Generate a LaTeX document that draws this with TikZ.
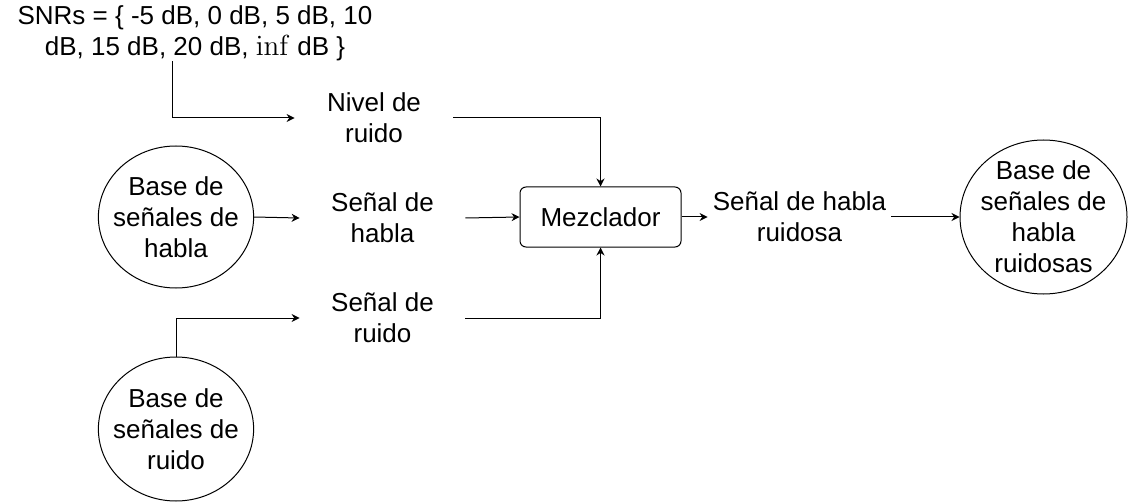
\RequirePackage{fix-cm}
\documentclass[tikz,border=0pt]{standalone}
\usepackage[no-math]{fontspec}
\setmainfont{Liberation Sans}
\usepackage{tikz}
\usetikzlibrary{arrows.meta, shapes.geometric, positioning}

\begin{document}
\begin{tikzpicture}[x=0.5pt, y=-0.5pt]
    % Setup the styles for the bases, the signals and the mixer
    \tikzset{base style/.style={ellipse, draw, line width=0.5pt,
                                inner sep=-4pt, align=center,
                                minimum width=76pt, minimum height=71pt},
             text style/.style={inner sep=0pt, align=center},
             box style/.style={rectangle, draw, rounded corners=3pt,
                               line width=0.5pt,
                               minimum width=80.5pt, minimum height=30pt},
             every node/.style={font=\fontsize{13}{15.5}\selectfont},
             link/.style={line width=0.5pt,
                          -{Stealth[length=4pt, width=4pt]}}}

    \useasboundingbox (0, 0) rectangle (1128, 502);

    % Draw the nodes
    \node[text style] at (195, 33) (snr)
        {SNRs = \{ -5 dB, 0 dB, 5 dB, 10\\dB, 15 dB, 20 dB, {\fontsize{14.5}{15.5}\selectfont$\inf$} dB \}};
    \node[text style, minimum width=79pt]   at (374, 118)   (nivel)    {Nivel de\\ruido};
    \node[base style]                       at (176, 217)   (habla)    {Base de\\señales de\\habla};
    \node[text style, minimum width=82.5pt] at (382.5, 218) (shabla)   {Señal de\\habla};
    \node[base style, minimum height=72pt]  at (176, 429)   (ruido)    {Base de\\señales de\\ruido};
    \node[text style, minimum width=82.5pt] at (382.5, 318) (sruido)   {Señal de\\ruido};
    \node[box style]                        at (600.5, 217) (mix)      {Mezclador};
    \node[text style, minimum width=91.5pt] at (799.5, 217) (sruidosa) {Señal de habla\\ruidosa};
    \node[base style, minimum width=83.5pt, minimum height=77pt]
                                            at (1043.5, 217) (salida)  {Base de\\señales de\\habla\\ruidosas};

    % Connect the nodes with arrows
    \draw[link] ([xshift=-11.5pt]snr.south) |- (nivel.west);
    \draw[link] (nivel.east) -| (mix.north);
    \draw[link] (habla.east) -- (shabla.west);
    \draw[link] (shabla.east) -- (mix.west);
    \draw[link] (ruido.north) |- (sruido.west);
    \draw[link] (sruido.east) -| (mix.south);
    \draw[link] (mix.east) -- (sruidosa.west);
    \draw[link] (sruidosa.east) -- (salida.west);
\end{tikzpicture}
\end{document}
